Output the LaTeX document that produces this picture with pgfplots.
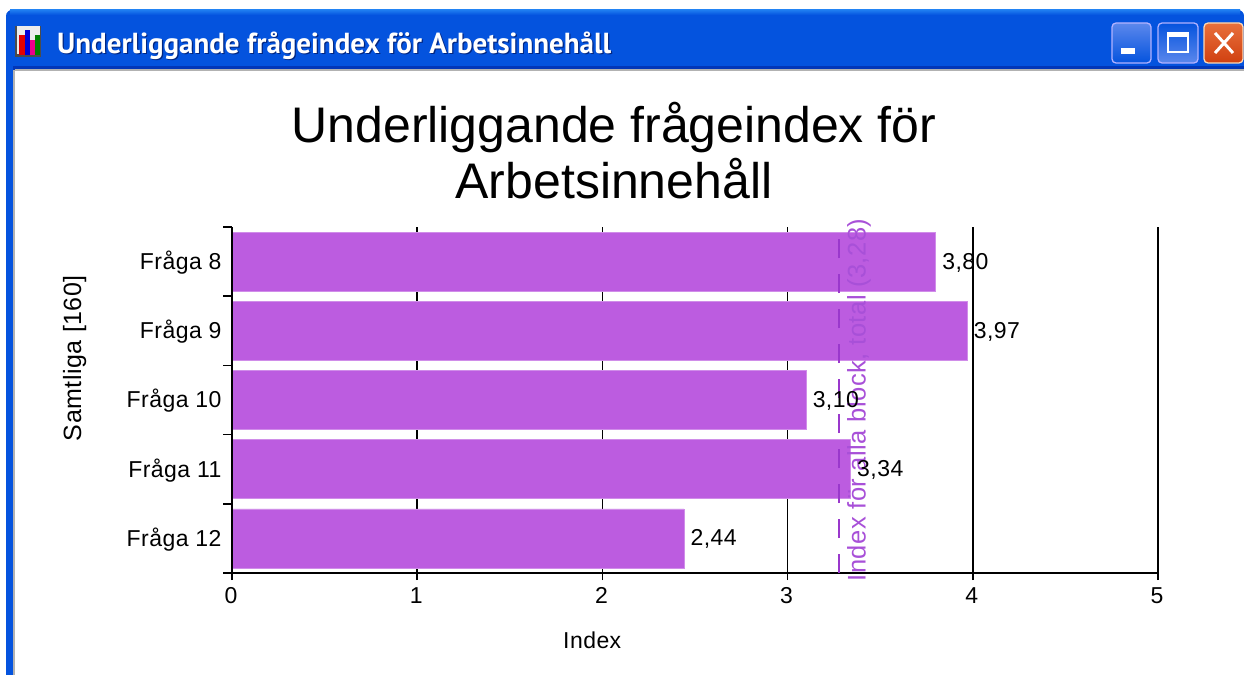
\documentclass[border=0pt]{standalone}
\usepackage{fontspec}
\usepackage{pgfplots}
\pgfplotsset{compat=1.18}
\setmainfont[LetterSpace=2]{Liberation Sans}
\newfontfamily\titlefont{Liberation Sans}
\newfontfamily\chromefont{PT Sans}
\definecolor{barcol}{HTML}{BC5CE0}
\definecolor{linecol}{HTML}{9A38CC}
\definecolor{labelcol}{HTML}{A850D8}
\definecolor{xpblue}{HTML}{0453DE}
\definecolor{xplight}{HTML}{1E7CF0}
\definecolor{xpdark}{HTML}{0236B8}
\definecolor{btnlight}{HTML}{5C88EC}
\definecolor{closetop}{HTML}{E8703C}
\definecolor{closebot}{HTML}{D04010}
\begin{document}
\begin{tikzpicture}[x=1pt,y=1pt]
\path[use as bounding box,fill=white] (0,0) rectangle (1244,675);
% window chrome (y measured from top: 675-py)
\fill[xpblue] (6,0) rectangle (13,630);
\fill[gray!60] (13,0) rectangle (15,605);
\fill[xpblue,rounded corners=6pt] (6,612) -- (6,665) -- (1244,665) -- (1244,612) -- cycle;
\shade[top color=xplight,bottom color=xpblue] (10,665) rectangle (1240,660);
\fill[xpblue] (6,605) rectangle (1244,625);
\fill[xpdark] (13,605) rectangle (1244,609);
\fill[gray!60] (15,604) rectangle (1244,605.5);
% icon
\fill[black!70] (15,618) rectangle (41,649);
\fill[white!85!gray] (17,621) rectangle (40,649);
\fill[red!90!black] (19,620) rectangle (25,640);
\fill[blue!85!black] (25,620) rectangle (30,645);
\fill[magenta] (30,620) rectangle (35,635);
\fill[green!50!black] (35,620) rectangle (40,640);
% caption
\node[anchor=west,inner sep=0pt,text=xpdark!70!black,font=\chromefont\bfseries\fontsize{29}{30}\selectfont] at (58.2,627.8) {Underliggande frågeindex för Arbetsinnehåll};
\node[anchor=west,inner sep=0pt,text=white,font=\chromefont\bfseries\fontsize{29}{30}\selectfont] at (57,629) {Underliggande frågeindex för Arbetsinnehåll};
% buttons
\shade[top color=btnlight,bottom color=xpblue,draw=white!70!blue,line width=1.3pt,rounded corners=4pt] (1112,612) rectangle (1151,652);
\fill[white] (1121,621) rectangle (1135,627);
\shade[top color=xpblue,bottom color=btnlight,draw=white!70!blue,line width=1.3pt,rounded corners=4pt] (1158,612) rectangle (1198,652);
\draw[white,line width=1.6pt] (1168,623) rectangle (1188,642);
\fill[white] (1168,638) rectangle (1188,643);
\shade[top color=closetop,bottom color=closebot,draw=white!70!orange,line width=1.3pt,rounded corners=4pt] (1204,612) rectangle (1243,652);
\draw[white,line width=3pt] (1215,622) -- (1233,642) (1215,642) -- (1233,622);
\begin{axis}[
  at={(232pt,102pt)},anchor=south west,
  scale only axis,width=926pt,height=346pt,
  xmin=0,xmax=5,ymin=-0.5,ymax=4.5,y dir=reverse,
  clip=false,
  xbar,bar width=59pt,bar shift=0pt,
  axis lines*=left,
  axis line style={black,line width=1.8pt,-},
  xtick={0,1,2,3,4,5},
  ytick={0,1,2,3,4},
  yticklabels={Fråga 8,Fråga 9,Fråga 10,Fråga 11,Fråga 12},
  minor ytick={-0.5,0.5,1.5,2.5,3.5,4.5},
  tick align=outside,
  major tick length=7pt,minor tick length=9pt,
  major y tick style={draw=none},
  minor y tick style={black,line width=1.6pt},
  major x tick style={black,line width=1.6pt},
  xmajorgrids,
  major grid style={black,line width=1.6pt},
  tick label style={font=\fontsize{23}{25}\selectfont},
  /pgf/number format/assume math mode=true,
  yticklabel style={xshift=0pt,yshift=-1pt},
  xticklabel style={yshift=-4pt,xshift=-1pt},
  xlabel={Index},
  xlabel style={at={(axis description cs:0.389,-0.194)},anchor=center,font=\fontsize{23}{25}\selectfont},
  ylabel={Samtliga [160]},
  ylabel style={at={(axis description cs:-0.170,0.621)},anchor=center,rotate=0,font=\fontsize{25}{27}\selectfont},
  title={Underliggande frågeindex för\\Arbetsinnehåll},
  title style={at={(axis description cs:0.4125,1.203)},anchor=center,align=center,font=\titlefont\fontsize{50}{56}\selectfont},
  nodes near coords,
  point meta=x,
  every node near coord/.append style={anchor=west,text=black,font=\fontsize{23}{25}\selectfont,xshift=3pt,yshift=-1pt,
    /pgf/number format/.cd,fixed,fixed zerofill,precision=2,use comma,assume math mode=true},
]
\addplot[fill=barcol,draw=barcol!70!white,line width=0.6pt] coordinates {(3.80,0)(3.97,1)(3.10,2)(3.34,3)(2.44,4)};
\addplot[sharp plot,black,line width=1.8pt,forget plot,no markers,nodes near coords={}] coordinates {(0,-0.5)(0,4.5)};
\addplot[sharp plot,linecol,line width=2pt,dash pattern=on 19pt off 16pt,forget plot,no markers,nodes near coords={}] coordinates {(3.28,4.5)(3.28,-0.5)};
\node[rotate=90,text=labelcol,font=\fontsize{25.5}{27}\selectfont] at (axis cs:3.385,2.0) {Index för alla block, total (3,28)};
\end{axis}
\end{tikzpicture}
\end{document}
